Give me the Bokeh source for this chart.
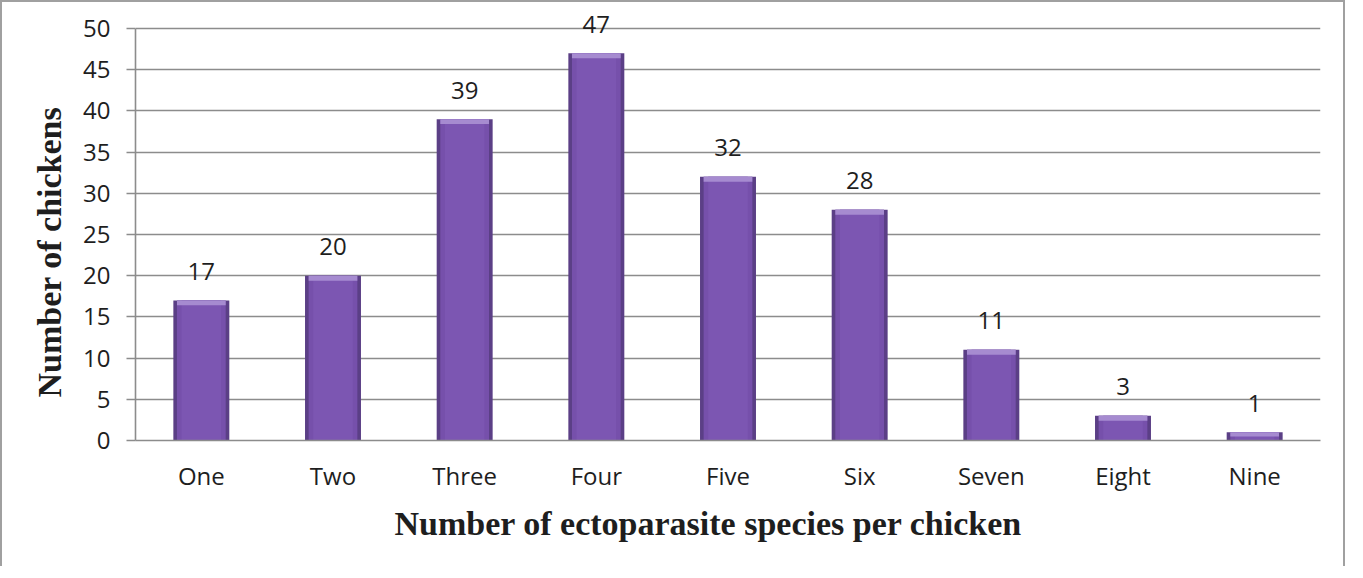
from bokeh.plotting import figure
from bokeh.models import FactorRange, Range1d, FixedTicker, Title, ColumnDataSource
from bokeh.core.properties import value
from bokeh.embed import file_html
from bokeh.resources import INLINE

categories = ["One", "Two", "Three", "Four", "Five", "Six", "Seven", "Eight", "Nine"]
chickens = [17, 20, 39, 47, 32, 28, 11, 3, 1]
y_ticks = [0, 5, 10, 15, 20, 25, 30, 35, 40, 45, 50]
x_title = "Number of ectoparasite species per chicken"
y_title = "Number of chickens"

GRID = "#8c8c8c"
TEXT = "#1e1e1e"

p = figure(
    x_range=FactorRange(*categories, range_padding=0),
    y_range=Range1d(0, 52.43),
    width=1345, height=566,
    output_backend="svg", toolbar_location=None,
    min_border_left=133, min_border_right=27, min_border_top=6, min_border_bottom=128,
    styles={"border-left": "2px solid #a0a0a0", "border-top": "2px solid #a0a0a0",
            "border-right": "2px solid #a0a0a0"},
)
p.outline_line_color = None
p.background_fill_color = "white"
p.border_fill_color = "white"

src = ColumnDataSource(dict(x=categories, top=chickens,
                            cap=[v - 0.6 if v > 1.2 else v * 0.5 for v in chickens],
                            label=[str(v) for v in chickens]))

# bar: dark edges, body, light top cap
p.vbar(x="x", top="top", bottom=0, width=0.425, source=src,
       fill_color="#5b3f86", line_color=None)
p.vbar(x="x", top="top", bottom=0, width=0.37, source=src,
       fill_color="#7650ab", line_color=None)
p.vbar(x="x", top="top", bottom=0, width=0.30, source=src,
       fill_color="#7c56b2", line_color=None)
p.vbar(x="x", top="top", bottom="cap", width=0.37, source=src,
       fill_color="#a68bd0", line_color=None)

p.text(x="x", y="top", text="label", source=src,
       text_align="center", text_baseline="alphabetic", y_offset=-29,
       text_font=value("Open Sans"), text_font_size="24px", text_color=TEXT)

# grid
p.xgrid.grid_line_color = None
p.ygrid.grid_line_color = GRID
p.ygrid.grid_line_width = 1.6
p.ygrid.bounds = (0, 50)

# y axis
ya = p.yaxis[0]
ya.ticker = FixedTicker(ticks=y_ticks)
ya.bounds = (0, 50)
ya.axis_line_color = GRID
ya.axis_line_width = 1.6
ya.major_tick_line_color = GRID
ya.major_tick_line_width = 1.6
ya.major_tick_in = 0
ya.major_tick_out = 9
ya.minor_tick_line_color = None
ya.major_label_standoff = 16
ya.major_label_text_font = "Open Sans"
ya.major_label_text_font_size = "24px"
ya.major_label_text_color = TEXT

ty = Title(text=y_title, align="left", offset=43, standoff=26,
           text_font="Liberation Serif", text_font_style="bold",
           text_font_size="34px", text_color=TEXT)
p.add_layout(ty, "left")

# x axis
xa = p.xaxis[0]
xa.axis_line_color = GRID
xa.axis_line_width = 1.6
xa.major_tick_line_color = None
xa.minor_tick_line_color = None
xa.major_label_standoff = 12
xa.major_label_text_font = "Open Sans"
xa.major_label_text_font_size = "24px"
xa.major_label_text_color = TEXT

tx = Title(text=x_title, align="left", offset=259, standoff=16,
           text_font="Liberation Serif", text_font_style="bold",
           text_font_size="34px", text_color=TEXT)
p.add_layout(tx, "below")

open("out.html", "w").write(file_html(p, INLINE))
